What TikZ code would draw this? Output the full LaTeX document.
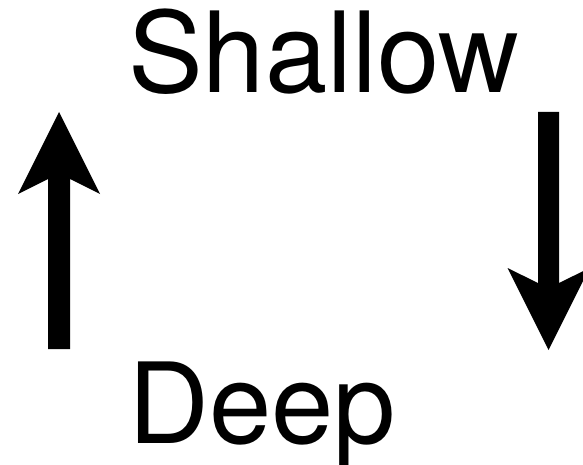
\documentclass[tikz,border=0pt]{standalone}
\usepackage{fontspec}
\setmainfont{TeX Gyre Heros}
\begin{document}
\begin{tikzpicture}[x=1pt,y=-1pt,
  label/.style={anchor=base west,inner sep=0pt,font=\fontsize{112}{112}\selectfont},
  arrowshape/.style={fill=black,draw=none}]
\useasboundingbox (0,0) rectangle (583,465);
\node[label] (shallow) at (128,93) {Shallow};
\node[label] (deep) at (128,443) {Deep};
% up arrow (left)
\fill[arrowshape] (48,349) -- (48,179) -- (18,194) -- (59,112) -- (100,194) -- (70,179) -- (70,349) -- cycle;
% down arrow (right)
\fill[arrowshape] (538,112) -- (538,283) -- (507.5,268) -- (548.5,350) -- (589.5,268) -- (559,283) -- (559,112) -- cycle;
\end{tikzpicture}
\end{document}
